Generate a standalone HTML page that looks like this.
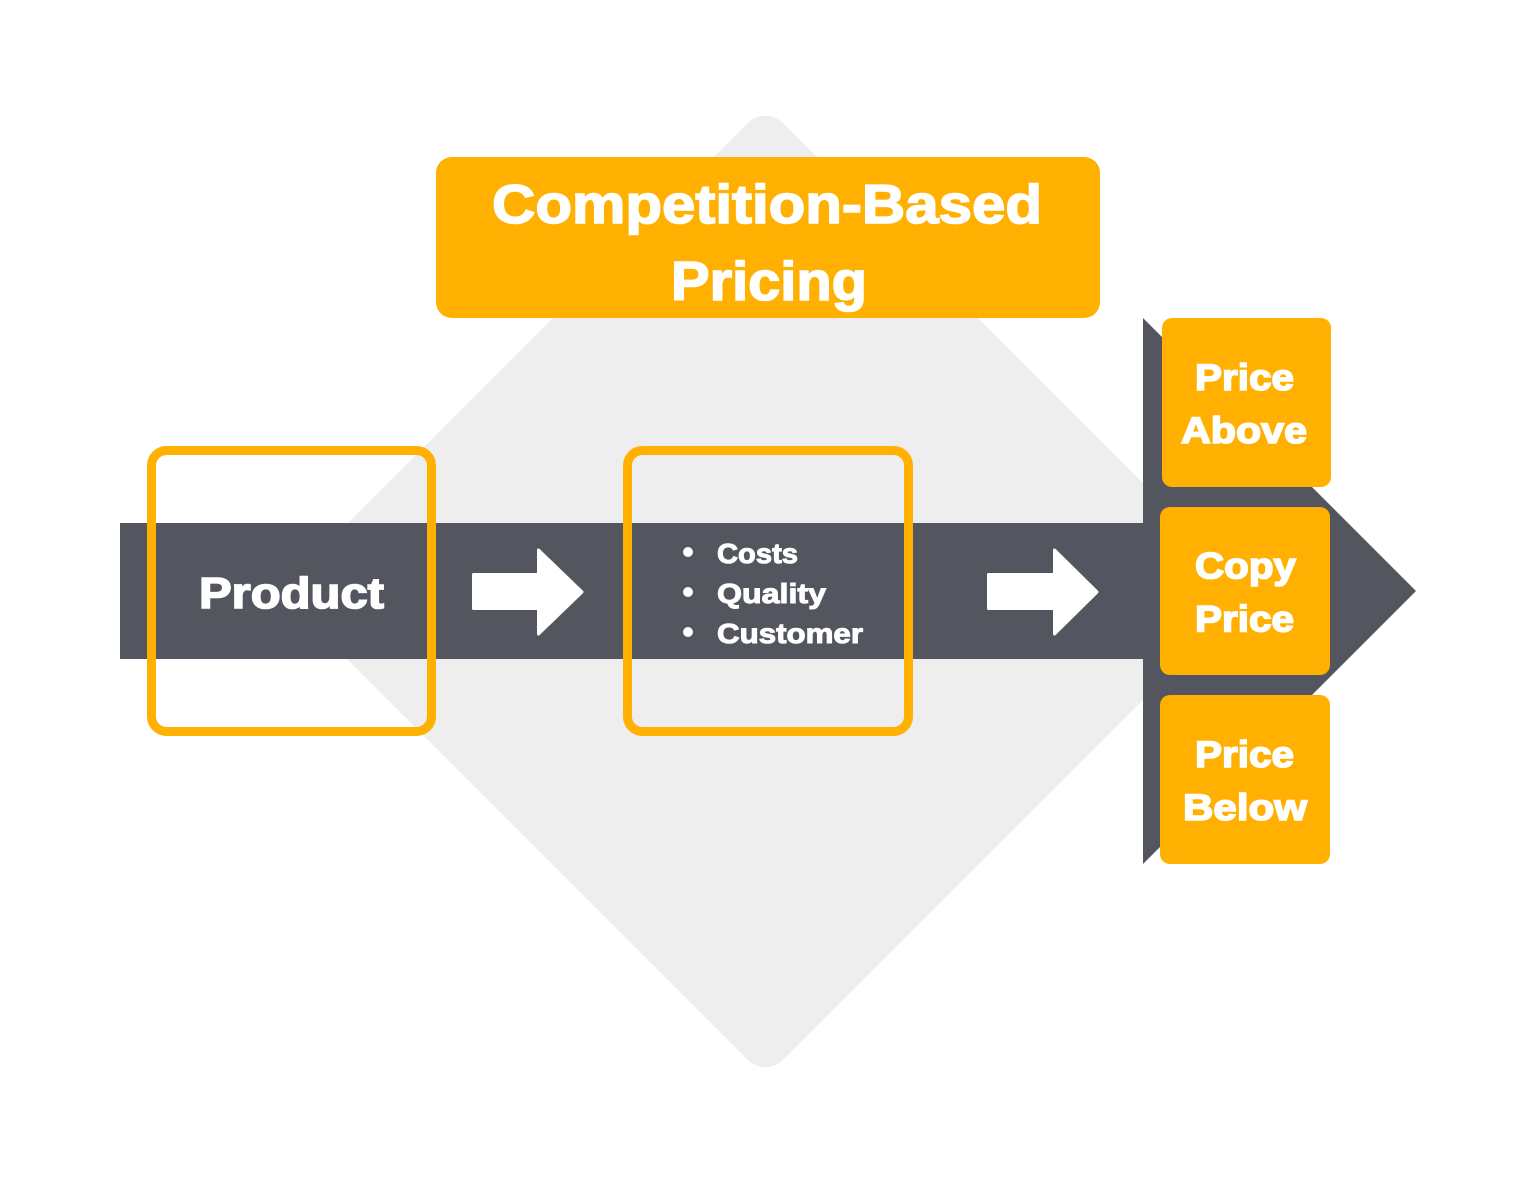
<!DOCTYPE html>
<html>
<head>
<meta charset="utf-8">
<style>
  html,body{margin:0;padding:0;background:#ffffff;}
  svg{display:block;}
  text{font-family:"Liberation Sans", Arial, sans-serif;font-weight:bold;fill:#ffffff;stroke:#ffffff;stroke-width:1;paint-order:stroke;}
  text.big{stroke-width:1.6;}
</style>
</head>
<body>
<svg width="1536" height="1182" viewBox="0 0 1536 1182" xmlns="http://www.w3.org/2000/svg">
  <rect x="0" y="0" width="1536" height="1182" fill="#ffffff"/>
  <!-- background diamond -->
  <rect x="-343.6" y="-343.6" width="687.3" height="687.3" rx="25" ry="25" fill="#eeeeee" transform="translate(765.5 591.5) rotate(45)"/>

  <!-- dark band -->
  <rect x="120" y="523" width="1030" height="136" fill="#53565f"/>
  <!-- arrow head -->
  <polygon points="1143,318 1416,591 1143,864" fill="#53565f"/>

  <!-- title box -->
  <rect x="436" y="157" width="664" height="161" rx="16" ry="16" fill="#ffb000"/>
  <text class="big" x="492" y="223" font-size="55" textLength="550" lengthAdjust="spacingAndGlyphs">Competition-Based</text>
  <text class="big" x="671" y="300" font-size="55" textLength="196" lengthAdjust="spacingAndGlyphs">Pricing</text>

  <!-- product outline box -->
  <rect x="151.5" y="450.5" width="280" height="281" rx="15" ry="15" fill="none" stroke="#ffb000" stroke-width="9"/>
  <text class="big" x="199" y="608" font-size="44" textLength="185" lengthAdjust="spacingAndGlyphs">Product</text>

  <!-- middle outline box -->
  <rect x="627.5" y="450.5" width="281" height="281" rx="15" ry="15" fill="none" stroke="#ffb000" stroke-width="9"/>
  <circle cx="688" cy="552" r="5" fill="#ffffff"/>
  <circle cx="688" cy="592" r="5" fill="#ffffff"/>
  <circle cx="688" cy="632" r="5" fill="#ffffff"/>
  <text x="717" y="563" font-size="28" textLength="81" lengthAdjust="spacingAndGlyphs">Costs</text>
  <text x="717" y="603" font-size="28" textLength="109" lengthAdjust="spacingAndGlyphs">Quality</text>
  <text x="717" y="643" font-size="28" textLength="146" lengthAdjust="spacingAndGlyphs">Customer</text>

  <!-- white arrows -->
  <polygon points="473.5,574.5 538.5,574.5 538.5,550 582,592 538.5,634 538.5,608.5 473.5,608.5" fill="#ffffff" stroke="#ffffff" stroke-width="3" stroke-linejoin="round"/>
  <polygon points="988.5,574.5 1054.5,574.5 1054.5,550 1097,592 1054.5,634 1054.5,608.5 988.5,608.5" fill="#ffffff" stroke="#ffffff" stroke-width="3" stroke-linejoin="round"/>

  <!-- right boxes -->
  <rect x="1162" y="318" width="169" height="169" rx="10" ry="10" fill="#ffb000"/>
  <text class="big" x="1195" y="390" font-size="37" textLength="99" lengthAdjust="spacingAndGlyphs">Price</text>
  <text class="big" x="1181" y="443" font-size="37" textLength="126" lengthAdjust="spacingAndGlyphs">Above</text>

  <rect x="1160" y="507" width="170" height="168" rx="10" ry="10" fill="#ffb000"/>
  <text class="big" x="1195" y="578.5" font-size="37" textLength="101" lengthAdjust="spacingAndGlyphs">Copy</text>
  <text class="big" x="1195" y="631.5" font-size="37" textLength="99" lengthAdjust="spacingAndGlyphs">Price</text>

  <rect x="1160" y="695" width="170" height="169" rx="10" ry="10" fill="#ffb000"/>
  <text class="big" x="1195" y="767" font-size="37" textLength="99" lengthAdjust="spacingAndGlyphs">Price</text>
  <text class="big" x="1183" y="820" font-size="37" textLength="124" lengthAdjust="spacingAndGlyphs">Below</text>
</svg>
</body>
</html>
